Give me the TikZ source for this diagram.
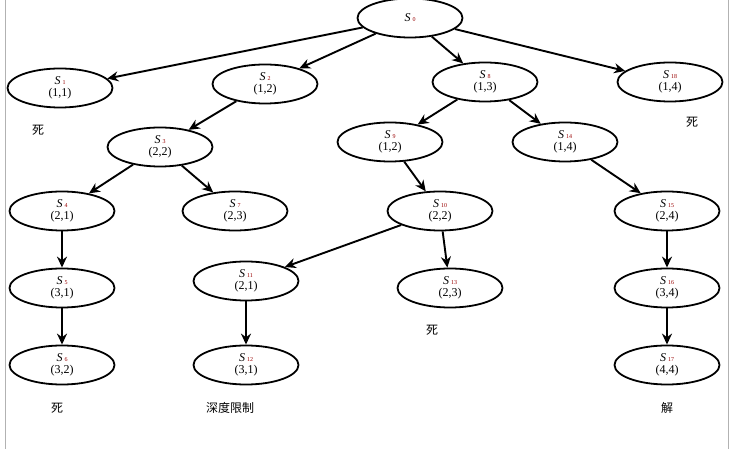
\documentclass[tikz,border=0pt]{standalone}
\usepackage{fontspec}
\setmainfont{Liberation Serif}
\newfontfamily\cjk{Noto Sans CJK SC}
\usetikzlibrary{arrows.meta,shapes.geometric}
\begin{document}
\begin{tikzpicture}[x=1pt,y=-1pt,
  st/.style={ellipse,draw,line width=1.8pt,minimum width=105pt,minimum height=39pt,inner sep=0pt,align=center,font=\fontsize{12}{12}\selectfont},
  ar/.style={-{Stealth[length=11pt,width=10pt]},line width=1.9pt},
  lb/.style={font=\cjk\fontsize{12}{13}\selectfont}]
\useasboundingbox (0,0) rectangle (732,449);
\fill[white] (0,0) rectangle (732,449);
\draw[gray!60,line width=1pt] (5,0) -- (5,449);
\draw[gray!60,line width=1pt] (728,0) -- (728,449);
\newcommand{\lab}[2]{\textit{S}\,{\color{red!60!black}\fontsize{6}{6}\selectfont #1}\\(#2)}
\node[st] (s0) at (410,18) {\textit{S}\,{\color{red!60!black}\fontsize{6}{6}\selectfont 0}};
\node[st] (s1) at (60,88) {\lab{1}{1,1}};
\node[st] (s2) at (265,84) {\lab{2}{1,2}};
\node[st] (s8) at (485,82) {\lab{8}{1,3}};
\node[st] (s18) at (670,82) {\lab{18}{1,4}};
\node[st] (s3) at (160,147) {\lab{3}{2,2}};
\node[st] (s9) at (390,142) {\lab{9}{1,2}};
\node[st] (s14) at (565,142) {\lab{14}{1,4}};
\node[st] (s4) at (62,211) {\lab{4}{2,1}};
\node[st] (s7) at (235,211) {\lab{7}{2,3}};
\node[st] (s10) at (440,211) {\lab{10}{2,2}};
\node[st] (s15) at (667,211) {\lab{15}{2,4}};
\node[st] (s5) at (62,288) {\lab{5}{3,1}};
\node[st] (s11) at (246,281) {\lab{11}{2,1}};
\node[st] (s13) at (450,288) {\lab{13}{2,3}};
\node[st] (s16) at (667,288) {\lab{16}{3,4}};
\node[st] (s6) at (62,365) {\lab{6}{3,2}};
\node[st] (s12) at (246,365) {\lab{12}{3,1}};
\node[st] (s17) at (667,365) {\lab{17}{4,4}};
\node[lb] (d1) at (38,130) {死};
\node[lb] (d2) at (692,122) {死};
\node[lb] (d3) at (432,330) {死};
\node[lb] (d4) at (57,408) {死};
\node[lb] (dl) at (230,408) {深度限制};
\node[lb] (sol) at (667,408) {解};
\draw[ar] (s0) -- (s1);
\draw[ar] (s0) -- (s2);
\draw[ar] (s0) -- (s8);
\draw[ar] (s0) -- (s18);
\draw[ar] (s2) -- (s3);
\draw[ar] (s8) -- (s9);
\draw[ar] (s8) -- (s14);
\draw[ar] (s3) -- (s4);
\draw[ar] (s3) -- (s7);
\draw[ar] (s9) -- (s10);
\draw[ar] (s14) -- (s15);
\draw[ar] (s4) -- (s5);
\draw[ar] (s10) -- (s11);
\draw[ar] (s10) -- (s13);
\draw[ar] (s15) -- (s16);
\draw[ar] (s5) -- (s6);
\draw[ar] (s11) -- (s12);
\draw[ar] (s16) -- (s17);
\end{tikzpicture}
\end{document}
